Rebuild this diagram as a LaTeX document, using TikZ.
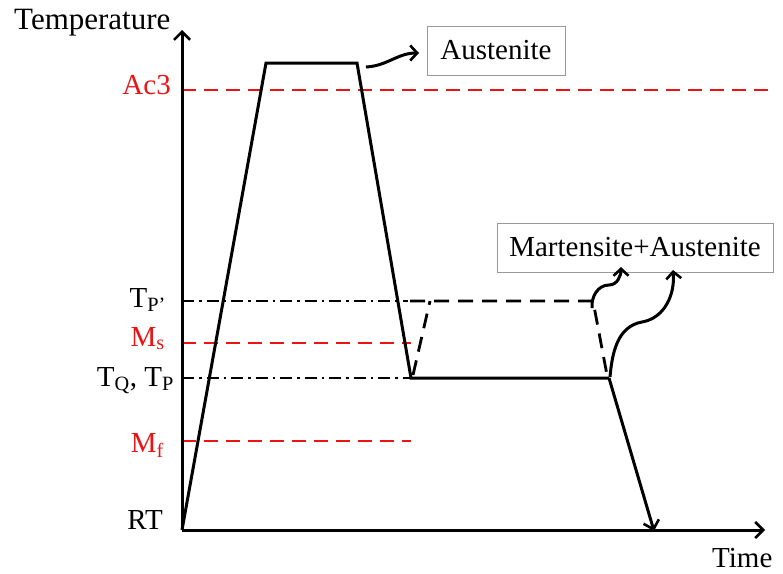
\documentclass[tikz,border=0pt]{standalone}
\usepackage{fontspec}
\setmainfont{Liberation Serif}
\usetikzlibrary{arrows.meta}
\definecolor{myred}{RGB}{235,20,20}
\begin{document}
\begin{tikzpicture}[x=1pt,y=-1pt,
  every node/.style={font=\fontsize{29}{32}\selectfont, inner sep=0pt},
  axis/.style={line width=3pt, -{Straight Barb[length=8pt,width=16pt,line width=2.6pt]}},
  curve/.style={line width=3pt, line join=miter},
  reddash/.style={line width=2.8pt, myred, dash pattern=on 14pt off 8pt},
  dashdot/.style={line width=2.4pt, dash pattern=on 12pt off 5pt on 2.5pt off 5pt},
  blackdash/.style={line width=2.8pt, dash pattern=on 15pt off 9pt},
  curly/.style={line width=3pt, -{Straight Barb[length=7pt,width=15pt,line width=2.6pt]}},
  lbl/.style={anchor=base east},
  redlbl/.style={anchor=base east, text=myred},
  phasebox/.style={draw=black!40, line width=1pt, minimum height=49pt}
]
\useasboundingbox (0,0) rectangle (783,573);

% key points
\coordinate (O) at (182,530);
\coordinate (ytop) at (182,30);
\coordinate (xend) at (765,530);
\coordinate (p1) at (266,63);
\coordinate (p2) at (357,63);
\coordinate (p3) at (411,378);
\coordinate (p4) at (609,378);
\coordinate (p5) at (654,531);
\coordinate (q1) at (430,301);
\coordinate (q2) at (593,301);

% reference lines
\coordinate (ac3a) at (182,90); \coordinate (ac3b) at (770,90);
\draw[reddash] (ac3a) -- (ac3b);
\coordinate (msa) at (182,343); \coordinate (msb) at (411,343);
\draw[reddash] (msa) -- (msb);
\coordinate (mfa) at (182,441); \coordinate (mfb) at (411,441);
\draw[reddash] (mfa) -- (mfb);
\coordinate (tpa) at (182,301); \coordinate (tpb) at (408,301);
\draw[dashdot] (tpa) -- (tpb);
\coordinate (tqa) at (182,378);
\draw[dashdot] (tqa) -- (p3);

% dashed reheating path
\coordinate (d1) at (413,375);
\coordinate (d4) at (607,375);
\draw[blackdash] (d1) -- (q1);
\coordinate (q0) at (410,301);
\draw[blackdash] (q0) -- (q2) -- (d4);

% main curve
\draw[curve] (O) -- (p1) -- (p2) -- (p3) -- (p4);
\draw[line width=3pt, -{Straight Barb[length=8pt,width=16pt,line width=2.6pt]}] (p4) -- (p5);

% axes
\draw[axis] (O) -- (ytop);
\draw[axis] (O) -- (xend);

% labels
\node[anchor=base west, font=\fontsize{31}{34}\selectfont] (temp) at (14,29) {Temperature};
\node[anchor=base west] (time) at (712,567) {Time};
\node[redlbl] (lac3) at (171,94) {Ac3};
\node[lbl] (ltp) at (166,307) {T\textsubscript{P’}};
\node[redlbl] (lms) at (165,346) {M\textsubscript{s}};
\node[lbl] (ltq) at (174,386) {T\textsubscript{Q}, T\textsubscript{P}};
\node[redlbl] (lmf) at (164,452) {M\textsubscript{f}};
\node[lbl] (lrt) at (163,529) {RT};

% phase boxes
\node[phasebox, minimum width=138pt] (aus) at (496,50.5) {Austenite};
\node[phasebox, minimum width=276pt] (ma) at (635,247.5) {Martensite+Austenite};

% curly arrows
\coordinate (c1s) at (366,67);
\coordinate (c1e) at (419,53);
\draw[curly] (c1s) to[out=3,in=180] (c1e);
\coordinate (c2s) at (592,308);
\coordinate (c2m) at (609,285);
\coordinate (c2e) at (621,267);
\draw[curly] (c2s) to[out=95,in=180] (c2m) to[out=0,in=-90] (c2e);
\coordinate (c3s) at (610,377);
\coordinate (c3m) at (642,322);
\coordinate (c3e) at (673,270);
\draw[curly] (c3s) to[out=85,in=190] (c3m) to[out=10,in=-85] (c3e);
\end{tikzpicture}
\end{document}
